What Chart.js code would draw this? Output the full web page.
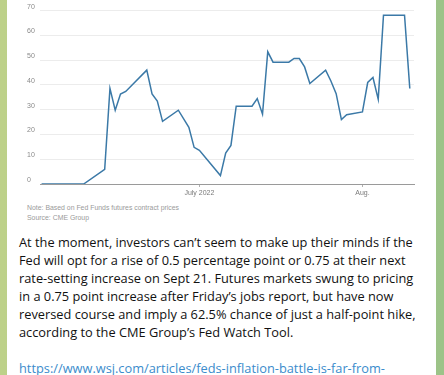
<!DOCTYPE html>
<html>
<head>
<meta charset="utf-8">
<script src="https://cdn.jsdelivr.net/npm/chart.js@4/dist/chart.umd.min.js"></script>
<style>
  html, body { margin: 0; padding: 0; }
  body {
    width: 444px; height: 375px; overflow: hidden; position: relative;
    background: linear-gradient(90deg, #bdd189 0%, #aecb88 50%, #9cc388 100%);
  }
  #card { position: absolute; left: 7px; top: -10px; width: 429px; height: 400px; background: #fff; }
  #wrap { position: absolute; left: 0; top: 0; width: 444px; height: 200px; }
  .note {
    position: absolute; left: 27px; font-family: "Liberation Sans Narrow", "Liberation Sans", Arial, sans-serif;
    font-size: 6.9px; color: #9a9a9a; white-space: nowrap;
  }
  #msg {
    position: absolute; left: 19px; top: 233px; font-family: "Open Sans", sans-serif;
    font-size: 12.8px; line-height: 18px; color: #111; white-space: nowrap;
  }
  #link {
    position: absolute; left: 19px; top: 359px; font-family: "Open Sans", sans-serif;
    font-size: 12.8px; line-height: 18px; color: #3b8ccc; white-space: nowrap;
  }
</style>
</head>
<body>
<div id="card"></div>
<div id="wrap"><canvas id="myChart" width="444" height="200"></canvas></div>
<div class="note" style="top:204px">Note: Based on Fed Funds futures contract prices</div>
<div class="note" style="top:214px">Source: CME Group</div>
<div id="msg">At the moment, investors can’t seem to make up their minds if the<br>Fed will opt for a rise of 0.5 percentage point or 0.75 at their next<br>rate-setting increase on Sept 21. Futures markets swung to pricing<br>in a 0.75 point increase after Friday’s jobs report, but have now<br>reversed course and imply a 62.5% chance of just a half-point hike,<br>according to the CME Group’s Fed Watch Tool.</div>
<div id="link">https://www.wsj.com/articles/feds-inflation-battle-is-far-from-</div>
<script>
// days counted from June 1, 2022
var days = [0, 8, 12, 13, 14, 15, 16, 20, 21, 22, 23, 26, 28, 29, 30, 34, 35, 36, 37, 40, 41, 42, 43, 44, 47, 48, 49, 50, 51, 54, 55, 56, 57, 58, 61, 62, 63, 64, 65, 69, 70];
var chance = [0, 0, 5.9, 38.6, 29.8, 36.3, 37.4, 46, 36.4, 33.5, 25.3, 29.8, 22.9, 14.8, 13.6, 3.4, 12.5, 15.6, 31.4, 31.4, 34.5, 28.2, 53.4, 49.2, 49.2, 50.7, 50.7, 47.3, 40.6, 46, 41.6, 36.5, 26, 28, 29.1, 41, 43, 34.2, 68.2, 68.2, 38.6];
var tickDays = [30, 61];
var tickLabels = ['July 2022', 'Aug.'];
var yTicks = [0, 10, 20, 30, 40, 50, 60, 70];

var points = days.map(function (d, i) { return { x: d, y: chance[i] }; });
var smallFont = { family: '"Liberation Sans Narrow", "Liberation Sans", Arial, sans-serif', size: 7 };

document.addEventListener('DOMContentLoaded', function () {
  var ctx = document.getElementById('myChart').getContext('2d');
  var myChart = new Chart(ctx, {
    type: 'line',
    data: {
      datasets: [{
        data: points,
        borderColor: '#3b79a7',
        borderWidth: 1.5,
        pointRadius: 0,
        tension: 0,
        fill: false
      }]
    },
    options: {
      responsive: false,
      animation: false,
      layout: { padding: { left: 27, right: 30, top: 10.7, bottom: 0 } },
      plugins: { legend: { display: false }, tooltip: { enabled: false } },
      scales: {
        x: {
          type: 'linear',
          min: -0.3,
          max: 70.8,
          afterBuildTicks: function (axis) {
            axis.ticks = tickDays.map(function (v) { return { value: v }; });
          },
          afterFit: function (axis) { axis.height = 16; },
          border: { display: true, color: '#9a9a9a', width: 1 },
          grid: { drawOnChartArea: false, drawTicks: true, tickLength: 3, color: '#b0b0b0' },
          ticks: {
            autoSkip: false,
            maxRotation: 0,
            padding: 2,
            color: '#7a7a7a',
            font: smallFont,
            callback: function (value) {
              var i = tickDays.indexOf(value);
              return i >= 0 ? tickLabels[i] : '';
            }
          }
        },
        y: {
          min: 0,
          max: 70,
          afterBuildTicks: function (axis) {
            axis.ticks = yTicks.map(function (v) { return { value: v }; });
          },
          afterFit: function (axis) { axis.width = 13; },
          border: { display: false },
          grid: { color: '#ececec', drawTicks: false },
          ticks: {
            crossAlign: 'far',
            padding: 5,
            labelOffset: -4,
            color: '#8a8a8a',
            font: smallFont
          }
        }
      }
    }
  });
});
</script>
</body>
</html>
